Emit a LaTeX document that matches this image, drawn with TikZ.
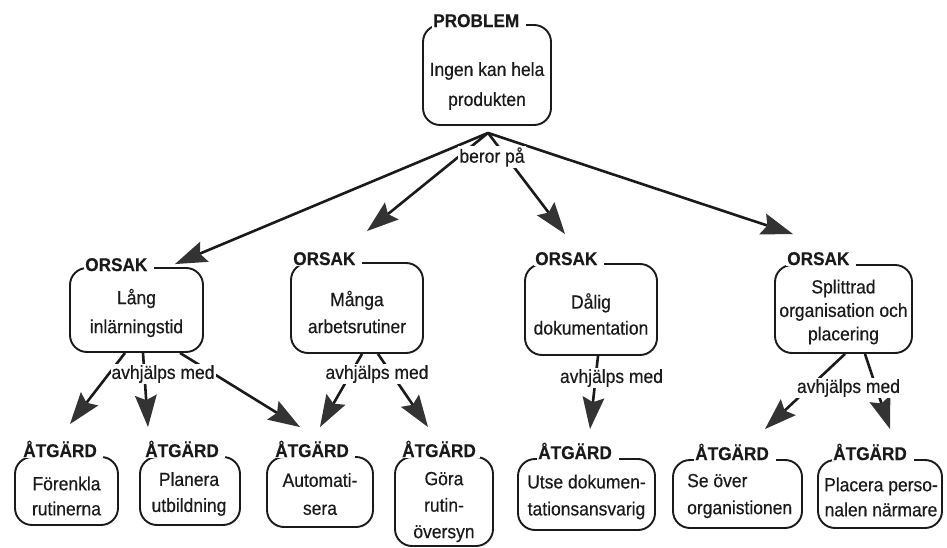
\documentclass[tikz,border=0pt]{standalone}
\usepackage{fontspec}
\setmainfont[FakeStretch=0.92,FakeBold=0.4]{Liberation Sans}
\newfontfamily\tagfont[FakeStretch=0.93,FakeBold=0.3]{Liberation Sans Bold}
\usetikzlibrary{arrows.meta}
\definecolor{ink}{HTML}{1A1A1A}
\definecolor{headgray}{HTML}{333333}
\begin{document}
\begin{tikzpicture}[x=1pt,y=-1pt,
  box/.style={draw=ink, line width=1.9pt, rounded corners=17pt, inner sep=0pt},
  txt/.style={font=\fontsize{19}{26}\selectfont, align=center, inner sep=0pt, text=ink},
  tag/.style={font=\fontsize{18.5}{20}\tagfont, fill=white, inner sep=1pt, anchor=base west, text=ink},
  rel/.style={font=\fontsize{19}{20}\selectfont, fill=white, inner sep=1pt, text=ink},
  arr/.style={draw=ink, line width=2.6pt, -{Stealth[length=32pt,width=22pt,inset=5pt,line width=0pt,color=headgray,fill=headgray]}}
]
\fill[white] (0,0) rectangle (947,548);
\useasboundingbox (0,0) rectangle (947,548);

% ---------- boxes ----------
\node[box, minimum width=128pt, minimum height=100pt] (P) at (487,75) {};
\node[box, minimum width=133pt, minimum height=84pt] (O1) at (136.5,310) {};
\node[box, minimum width=132pt, minimum height=90pt] (O2) at (357,308) {};
\node[box, minimum width=132pt, minimum height=91pt] (O3) at (591,309.5) {};
\node[box, minimum width=137pt, minimum height=88pt] (O4) at (843.5,309) {};
\node[box, minimum width=103pt, minimum height=68pt] (A1) at (66.5,491) {};
\node[box, minimum width=100pt, minimum height=68pt] (A2) at (190,491) {};
\node[box, minimum width=106pt, minimum height=70pt] (A3) at (320,492) {};
\node[box, minimum width=98pt, minimum height=89pt] (A4) at (444,501.5) {};
\node[box, minimum width=137pt, minimum height=71pt] (A5) at (586.5,494.5) {};
\node[box, minimum width=129pt, minimum height=68pt] (A6) at (737.5,494) {};
\node[box, minimum width=124pt, minimum height=68pt] (A7) at (880,494) {};

% ---------- box texts ----------
\node[txt, font=\fontsize{19}{30}\selectfont] (Pt) at (487,86) {Ingen kan hela\\produkten};
\node[txt, font=\fontsize{19}{29}\selectfont] (O1t) at (136.5,313) {Lång\\inlärningstid};
\node[txt, font=\fontsize{19}{27}\selectfont] (O2t) at (357,312) {Många\\arbetsrutiner};
\node[txt] (O3t) at (591,314) {Dålig\\dokumentation};
\node[txt, font=\fontsize{19}{23.5}\selectfont] (O4t) at (843.5,312) {Splittrad\\organisation och\\placering};
\node[txt, font=\fontsize{19}{25}\selectfont] (A1t) at (66.5,496) {Förenkla\\rutinerna};
\node[txt] (A2t) at (189,494) {Planera\\utbildning};
\node[txt, font=\fontsize{19}{28}\selectfont] (A3t) at (320,494) {Automati-\\sera};
\node[txt, font=\fontsize{19}{26.5}\selectfont] (A4t) at (444,507) {Göra\\rutin-\\översyn};
\node[txt, font=\fontsize{19}{27}\selectfont] (A5t) at (586.5,497) {Utse dokumen-\\tationsansvarig};
\node[txt, font=\fontsize{19}{27}\selectfont, align=left, anchor=west] (A6t) at (687,496) {Se över\\organistionen};
\node[txt, font=\fontsize{19}{25}\selectfont] (A7t) at (881,497) {Placera perso-\\nalen närmare};

% ---------- kind tags ----------
\node[tag] (Pl) at ([xshift=10pt,yshift=-3pt]P.north west) {PROBLEM\kern6pt};
\node[tag] (O1l) at ([xshift=15pt,yshift=-4pt]O1.north west) {ORSAK\kern6pt};
\node[tag] (O2l) at ([xshift=2pt,yshift=-3pt]O2.north west) {ORSAK\kern6pt};
\node[tag] (O3l) at ([xshift=10pt,yshift=-2pt]O3.north west) {ORSAK\kern6pt};
\node[tag] (O4l) at ([xshift=12pt,yshift=-1pt]O4.north west) {ORSAK\kern6pt};
\node[tag] (A1l) at ([xshift=8pt,yshift=-1pt]A1.north west) {ÅTGÄRD\kern5pt};
\node[tag] (A2l) at ([xshift=5pt,yshift=-1pt]A2.north west) {ÅTGÄRD\kern5pt};
\node[tag] (A3l) at ([xshift=8pt,yshift=-1pt]A3.north west) {ÅTGÄRD\kern5pt};
\node[tag] (A4l) at ([xshift=7pt,yshift=-1pt]A4.north west) {ÅTGÄRD\kern3pt};
\node[tag] (A5l) at ([xshift=20pt,yshift=-1pt]A5.north west) {ÅTGÄRD\kern6pt};
\node[tag] (A6l) at ([xshift=22pt,yshift=-1pt]A6.north west) {ÅTGÄRD\kern6pt};
\node[tag] (A7l) at ([xshift=15pt,yshift=-1pt]A7.north west) {ÅTGÄRD\kern6pt};

% ---------- connector ends ----------
\coordinate (pc) at ([xshift=1pt,yshift=-7pt]P.south);
\coordinate (tO1) at ([xshift=38.5pt,yshift=3pt]O1.north);
\coordinate (tO2) at ([xshift=10pt,yshift=31pt]O2.north);
\coordinate (tO3) at ([xshift=-26pt,yshift=29pt]O3.north);
\coordinate (tO4) at ([xshift=-50.5pt,yshift=30pt]O4.north);
\coordinate (s1a) at ([xshift=-11.5pt]O1.south);
\coordinate (s1b) at ([xshift=6.5pt]O1.south);
\coordinate (s1c) at ([xshift=43.5pt]O1.south);
\coordinate (s2a) at ([xshift=5pt]O2.south);
\coordinate (s2b) at ([xshift=21pt]O2.south);
\coordinate (s3) at ([xshift=7pt]O3.south);
\coordinate (s4a) at ([xshift=1.5pt]O4.south);
\coordinate (s4b) at ([xshift=21.5pt]O4.south);
\coordinate (tA1) at ([xshift=3.5pt,yshift=32pt]A1.north);
\coordinate (tA2) at ([xshift=-42pt,yshift=29pt]A2.north);
\coordinate (tA3a) at ([xshift=-20pt,yshift=29pt]A3.north);
\coordinate (tA3b) at ([xshift=0pt,yshift=29pt]A3.north);
\coordinate (tA4) at ([xshift=-16pt,yshift=29pt]A4.north);
\coordinate (tA5) at ([xshift=3.5pt,yshift=29pt]A5.north);
\coordinate (tA6) at ([xshift=27.5pt,yshift=30pt]A6.north);
\coordinate (tA7) at ([xshift=10pt,yshift=30pt]A7.north);

% ---------- connectors ----------
\draw[arr] (pc) -- (tO1);
\draw[arr] (pc) -- (tO2);
\draw[arr] (pc) -- (tO3);
\draw[arr] (pc) -- (tO4);
\draw[arr] (s1a) -- (tA1);
\draw[arr] (s1b) -- (tA2);
\draw[arr] (s1c) -- (tA3a);
\draw[arr] (s2a) -- (tA3b);
\draw[arr] (s2b) -- (tA4);
\draw[arr] (s3) -- (tA5);
\draw[arr] (s4a) -- (tA6);
\draw[arr] (s4b) -- (tA7);

% ---------- link labels ----------
\node[rel] (beror) at (492,157) {beror på};
\node[rel] (av1) at (163,374) {avhjälps med};
\node[rel] (av2) at (377,374) {avhjälps med};
\node[rel] (av3) at (611.5,378) {avhjälps med};
\node[rel] (av4) at (848.5,388) {avhjälps med};
\end{tikzpicture}
\end{document}
